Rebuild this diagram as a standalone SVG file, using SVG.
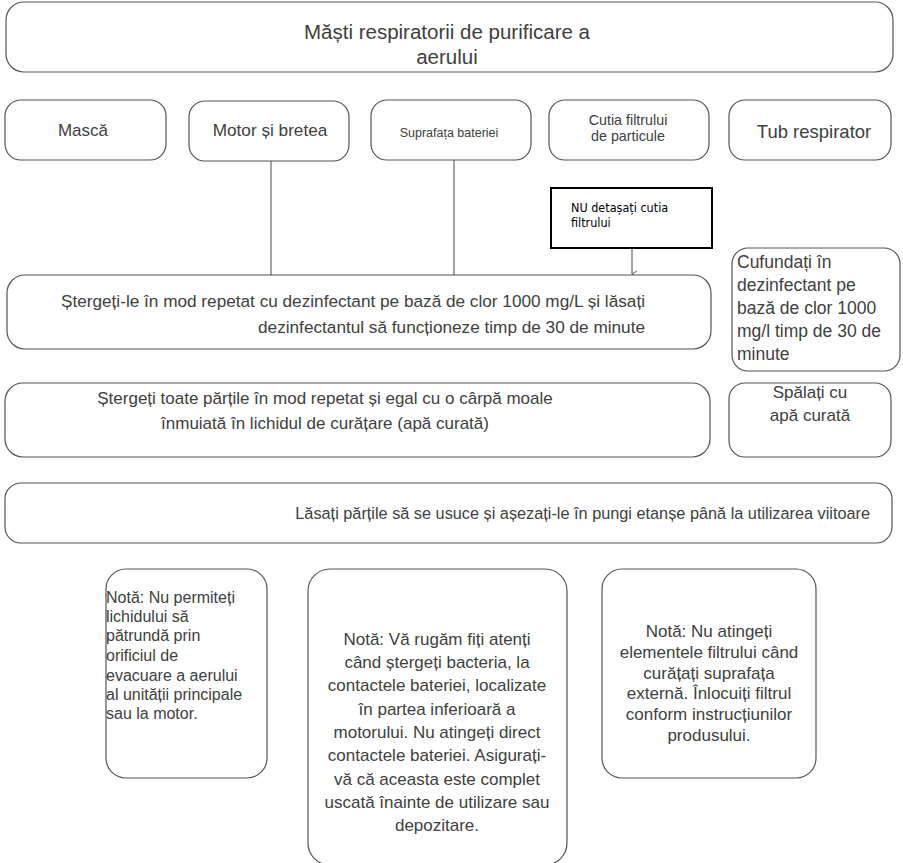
<svg xmlns="http://www.w3.org/2000/svg" width="903" height="863" viewBox="0 0 903 863">
<defs>
<style>
.box{fill:#fff;stroke:#555;stroke-width:1.2}
.nu{fill:#fff;stroke:#000;stroke-width:2}
.t{font-family:"Liberation Sans",Arial,sans-serif;fill:#404040}
.c{text-anchor:middle}
.r{text-anchor:end}
.conn{stroke:#666;stroke-width:1.2;fill:none}
.nut{font-family:"DejaVu Sans Condensed","DejaVu Sans",sans-serif;font-stretch:condensed;font-size:12.5px;fill:#000}
</style>
<marker id="arr" markerWidth="10" markerHeight="10" refX="4" refY="7" orient="auto" markerUnits="userSpaceOnUse">
<path d="M1,2 L4,7 L7,2" fill="none" stroke="#666" stroke-width="1"/>
</marker>
</defs>
<rect width="903" height="863" fill="#fff"/>
<g id="connectors">
<line class="conn" x1="271" y1="161" x2="271" y2="275"/>
<line class="conn" x1="454" y1="160" x2="454" y2="275"/>
<line class="conn" x1="632" y1="249" x2="632" y2="274" marker-end="url(#arr)"/>
</g>
<g id="title">
<rect class="box" x="6" y="2" width="887" height="70" rx="18"/>
<text class="t c" x="447" y="39" font-size="20.5">Măști respiratorii de purificare a</text>
<text class="t c" x="447" y="64" font-size="20.5">aerului</text>
</g>
<g id="masca">
<rect class="box" x="5" y="100" width="161" height="60" rx="16"/>
<text class="t c" x="83" y="136" font-size="17">Mască</text>
</g>
<g id="motor">
<rect class="box" x="189" y="101" width="160" height="60" rx="16"/>
<text class="t c" x="270" y="136" font-size="17.2">Motor și bretea</text>
</g>
<g id="suprafata">
<rect class="box" x="371" y="100" width="160" height="60" rx="16"/>
<text class="t c" x="449" y="137" font-size="12.5">Suprafața bateriei</text>
</g>
<g id="cutia">
<rect class="box" x="549" y="100" width="160" height="60" rx="16"/>
<text class="t c" x="628" y="125" font-size="14.3">Cutia filtrului</text>
<text class="t c" x="628" y="141" font-size="14.3">de particule</text>
</g>
<g id="tub">
<rect class="box" x="729" y="100" width="162" height="60" rx="16"/>
<text class="t c" x="814" y="138" font-size="18.5">Tub respirator</text>
</g>
<g id="nu">
<rect class="nu" x="551" y="188" width="161" height="60"/>
<text class="nut" x="571" y="212">NU detașați cutia</text>
<text class="nut" x="571" y="227">filtrului</text>
</g>
<g id="sterge1">
<rect class="box" x="7" y="275" width="704" height="74" rx="18"/>
<text class="t r" x="645" y="307" font-size="17.2">Ștergeți-le în mod repetat cu dezinfectant pe bază de clor 1000 mg/L și lăsați</text>
<text class="t r" x="645" y="333" font-size="17.2">dezinfectantul să funcționeze timp de 30 de minute</text>
</g>
<g id="cufundati">
<rect class="box" x="732" y="248" width="168" height="123" rx="16"/>
<text class="t" x="737" y="268" font-size="17.5">Cufundați în</text>
<text class="t" x="737" y="291" font-size="17.5">dezinfectant pe</text>
<text class="t" x="737" y="314" font-size="17.5">bază de clor 1000</text>
<text class="t" x="737" y="337" font-size="17.5">mg/l timp de 30 de</text>
<text class="t" x="737" y="360" font-size="17.5">minute</text>
</g>
<g id="sterge2">
<rect class="box" x="5" y="383" width="705" height="74" rx="18"/>
<text class="t c" x="325" y="404" font-size="17">Ștergeți toate părțile în mod repetat și egal cu o cârpă moale</text>
<text class="t c" x="325" y="429" font-size="17">înmuiată în lichidul de curățare (apă curată)</text>
</g>
<g id="spalati">
<rect class="box" x="729" y="383" width="162" height="74" rx="16"/>
<text class="t c" x="810" y="398" font-size="17">Spălați cu</text>
<text class="t c" x="810" y="421" font-size="17">apă curată</text>
</g>
<g id="lasati">
<rect class="box" x="5" y="483" width="887" height="60" rx="16"/>
<text class="t r" x="870" y="519" font-size="16.3">Lăsați părțile să se usuce și așezați-le în pungi etanșe până la utilizarea viitoare</text>
</g>
<g id="nota1">
<rect class="box" x="106" y="569" width="161" height="209" rx="20"/>
<text class="t" x="106" y="603" font-size="16">Notă: Nu permiteți</text>
<text class="t" x="106" y="622" font-size="16">lichidului să</text>
<text class="t" x="106" y="641" font-size="16">pătrundă prin</text>
<text class="t" x="106" y="661" font-size="16">orificiul de</text>
<text class="t" x="106" y="681" font-size="16">evacuare a aerului</text>
<text class="t" x="106" y="700" font-size="16">al unității principale</text>
<text class="t" x="106" y="719" font-size="16">sau la motor.</text>
</g>
<g id="nota2">
<rect class="box" x="308" y="569" width="259" height="296" rx="22"/>
<text class="t c" x="437" y="645" font-size="17">Notă: Vă rugăm fiți atenți</text>
<text class="t c" x="437" y="668" font-size="17">când ștergeți bacteria, la</text>
<text class="t c" x="437" y="691" font-size="17">contactele bateriei, localizate</text>
<text class="t c" x="437" y="715" font-size="17">în partea inferioară a</text>
<text class="t c" x="437" y="738" font-size="17">motorului. Nu atingeți direct</text>
<text class="t c" x="437" y="761" font-size="17">contactele bateriei. Asigurați-</text>
<text class="t c" x="437" y="785" font-size="17">vă că aceasta este complet</text>
<text class="t c" x="437" y="808" font-size="17">uscată înainte de utilizare sau</text>
<text class="t c" x="437" y="831" font-size="17">depozitare.</text>
</g>
<g id="nota3">
<rect class="box" x="602" y="569" width="214" height="209" rx="20"/>
<text class="t c" x="709" y="637" font-size="17">Notă: Nu atingeți</text>
<text class="t c" x="709" y="658" font-size="17">elementele filtrului când</text>
<text class="t c" x="709" y="679" font-size="17">curățați suprafața</text>
<text class="t c" x="709" y="699" font-size="17">externă. Înlocuiți filtrul</text>
<text class="t c" x="709" y="720" font-size="17">conform instrucțiunilor</text>
<text class="t c" x="709" y="741" font-size="17">produsului.</text>
</g>
</svg>
